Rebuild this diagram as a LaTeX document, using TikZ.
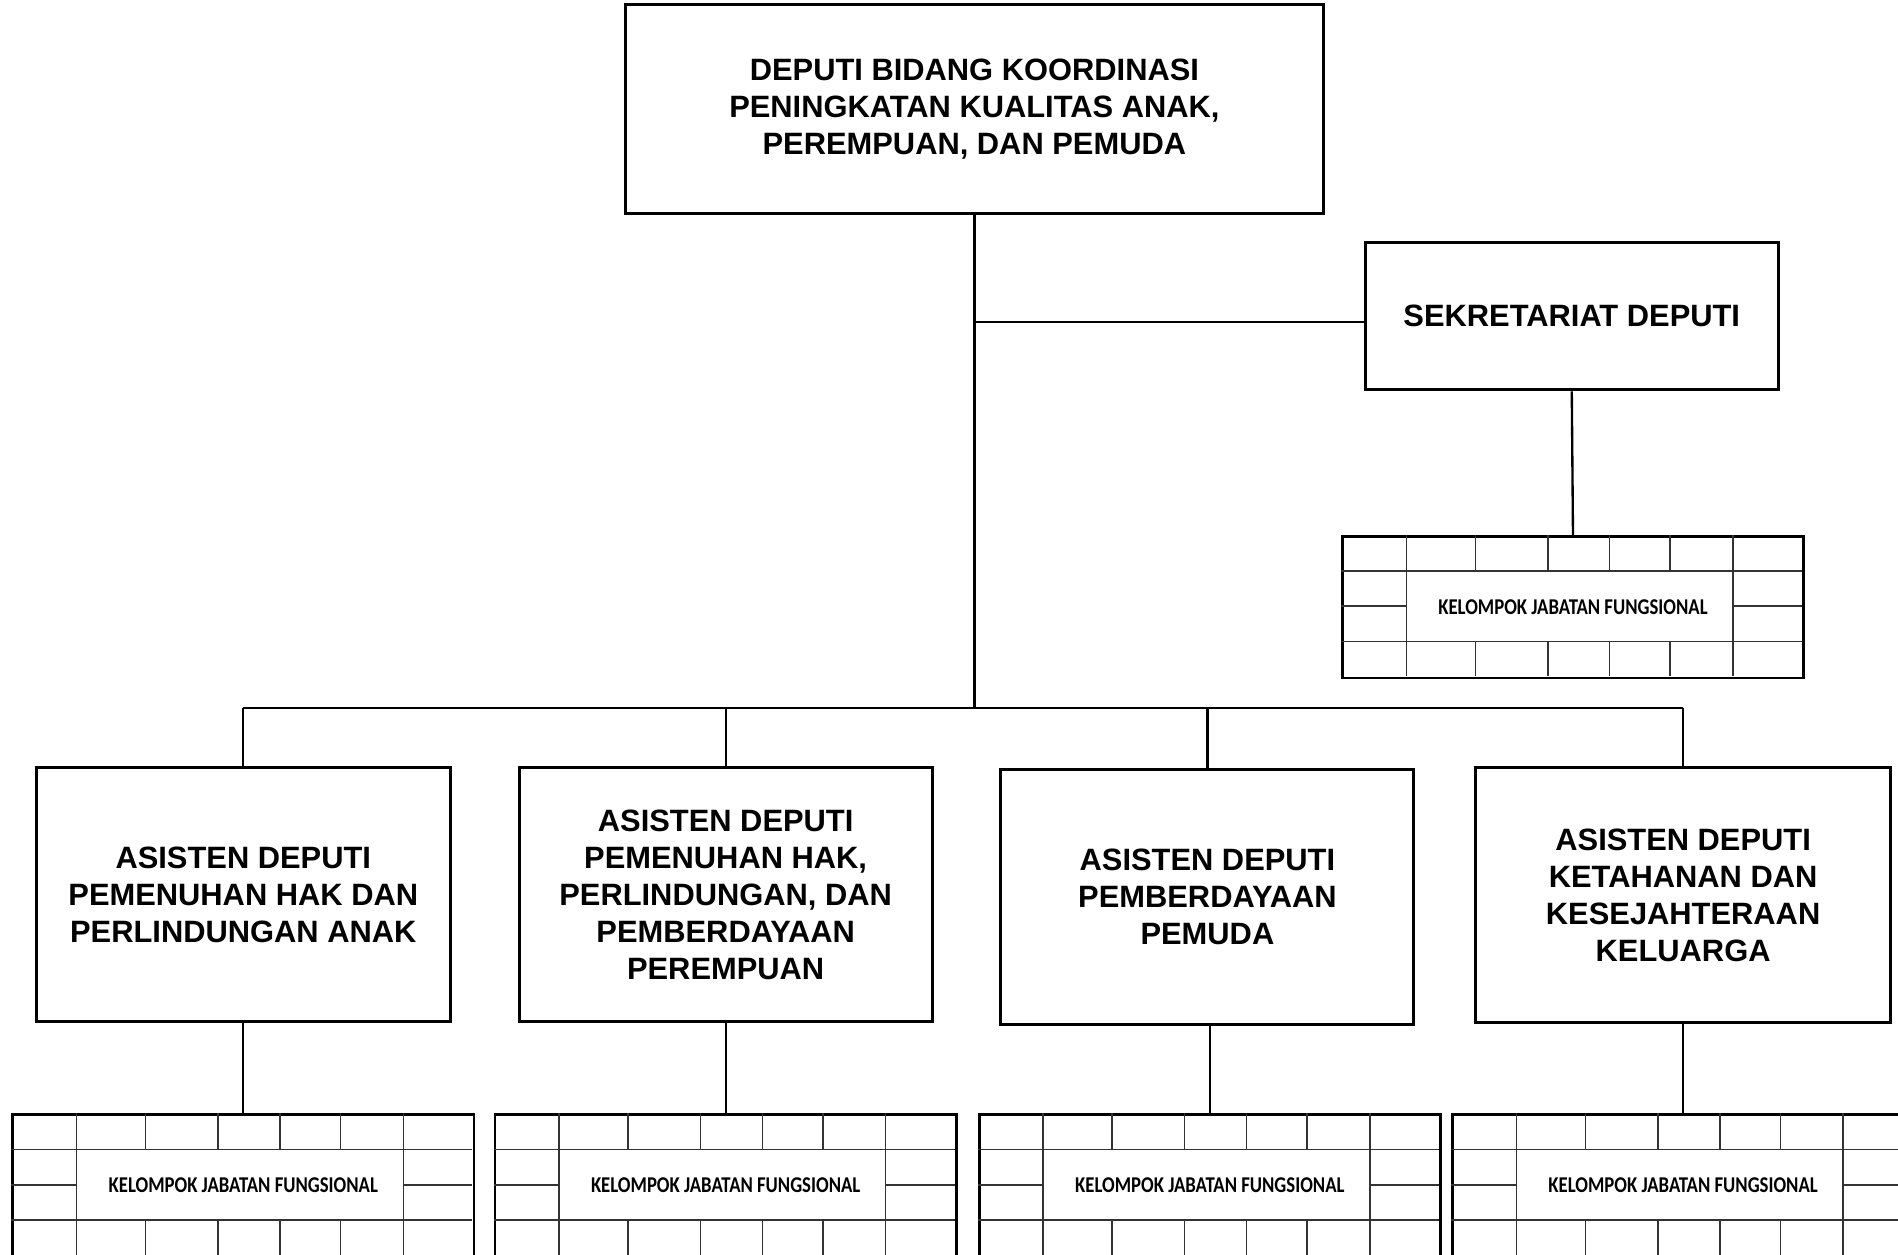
\documentclass[tikz,border=0pt]{standalone}
\usepackage{fontspec}
\setmainfont{Liberation Sans}
\newfontfamily\kjffont{Carlito}
\usepackage{tikz}

\tikzset{
	kotak/.style={draw, line width=0.7pt, align=center, inner sep=0pt, font=\fontsize{7.25}{8.7}\selectfont\bfseries},
	kjf/.style={draw, line width=0.65pt, minimum width=3.81cm, minimum height=1.17cm, inner sep=0pt},
	garis/.style={line width=0.55pt},
	gridtipis/.style={line width=0.35pt, black!80},
}

\begin{document}
\begin{tikzpicture}[x=0.01cm, y=-0.01cm]
		\useasboundingbox (0, 0) rectangle (1568, 1036);
		\clip (0, 0) rectangle (1568, 1036);
		\node [kotak, minimum width=5.76cm, minimum height=1.72cm] (deputi) at (805, 90) {DEPUTI BIDANG KOORDINASI\\PENINGKATAN KUALITAS ANAK,\\PEREMPUAN, DAN PEMUDA};
		\node [kotak, minimum width=3.41cm, minimum height=1.22cm] (sekretariat) at (1298.5, 261) {SEKRETARIAT DEPUTI};
		\node [kotak, minimum width=3.42cm, minimum height=2.10cm] (asdepA) at (201, 739) {ASISTEN DEPUTI\\PEMENUHAN HAK DAN\\PERLINDUNGAN ANAK};
		\node [kotak, minimum width=3.41cm, minimum height=2.10cm] (asdepB) at (599.5, 739) {ASISTEN DEPUTI\\PEMENUHAN HAK,\\PERLINDUNGAN, DAN\\PEMBERDAYAAN\\PEREMPUAN};
		\node [kotak, minimum width=3.41cm, minimum height=2.10cm] (asdepC) at (997.5, 741) {ASISTEN DEPUTI\\PEMBERDAYAAN\\PEMUDA};
		\node [kotak, minimum width=3.43cm, minimum height=2.11cm] (asdepD) at (1390.5, 739.5) {ASISTEN DEPUTI\\KETAHANAN DAN\\KESEJAHTERAAN\\KELUARGA};
		\foreach \nama/\x/\y in {kjfS/1299.5/501.5, kjfA/201/979.5, kjfB/599.5/979.5, kjfC/999.5/979.5, kjfD/1390.5/979.5} {
			\node [kjf] (\nama) at (\x, \y) {\kjffont\bfseries\fontsize{5.3}{6}\selectfont\scalebox{0.83}[1]{KELOMPOK JABATAN FUNGSIONAL}};
			\begin{scope}[shift={(\nama.north west)}, gridtipis]
				\draw (0, 30) -- (381, 30) (0, 88) -- (381, 88);
				\draw (0, 59) -- (54, 59) (324, 59) -- (381, 59);
				\draw (54, 0) -- (54, 117) (324, 0) -- (324, 117);
				\foreach \k in {111, 171, 222, 272} {
					\draw (\k, 0) -- (\k, 30) (\k, 88) -- (\k, 117);
				}
			\end{scope}
		}
		\coordinate (bus) at (805, 585);
		\coordinate (sekkiri) at ([yshift=-0.05cm]sekretariat.west);
		\draw [garis] (deputi.south) -- (bus);
		\draw [garis] (deputi.south |- sekkiri) -- (sekkiri);
		\draw [garis] (sekretariat.south) -- (kjfS.north);
		\draw [garis] (asdepA.north |- bus) -- (asdepD.north |- bus);
		\foreach \a/\k in {asdepA/kjfA, asdepB/kjfB, asdepC/kjfC, asdepD/kjfD} {
			\draw [garis] (\a.north |- bus) -- (\a.north);
			\draw [garis] (\k.north |- \a.south) -- (\k.north);
		}
	\end{tikzpicture}
\end{document}
